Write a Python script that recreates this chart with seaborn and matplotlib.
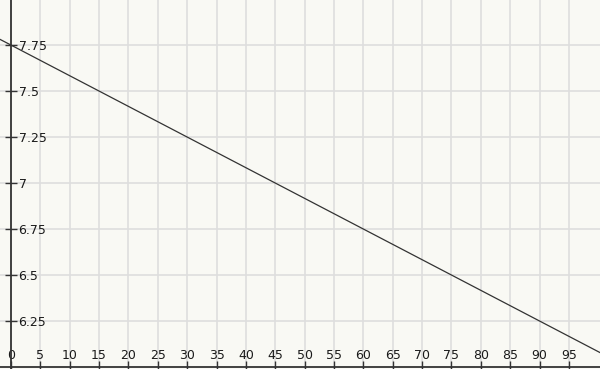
import matplotlib
matplotlib.use("Agg")
import matplotlib.pyplot as plt
import seaborn as sns
import pandas as pd
import numpy as np

# data
x_vals = [-5, 0, 30, 60, 90, 105]
y_vals = [7.833, 7.75, 7.25, 6.75, 6.25, 6.0]
x_ticks = list(range(0, 100, 5))
y_ticks = [6.25, 6.5, 6.75, 7.0, 7.25, 7.5, 7.75]
y_tick_labels = ["6.25", "6.5", "6.75", "7", "7.25", "7.5", "7.75"]

sns.set_theme(style="white")
plt.rcParams['font.family'] = ['DejaVu Sans']

df = pd.DataFrame({"x": x_vals, "y": y_vals})

fig = plt.figure(figsize=(6, 3.69), dpi=100)
fig.patch.set_facecolor("#f9f9f4")
ax = fig.add_axes([0, 0, 1, 1])
ax.set_facecolor("#f9f9f4")

sns.lineplot(data=df, x="x", y="y", ax=ax, color="#333333", linewidth=0.9)

ax.set_xlim(-1.87, 100.3)
ax.set_ylim(5.989, 7.995)

ax.set_xticks(x_ticks)
ax.set_xticklabels([str(t) for t in x_ticks])
ax.set_yticks(y_ticks)
ax.set_yticklabels(y_tick_labels)

ax.grid(True, color="#dedede", linewidth=1.2)
ax.set_axisbelow(True)

for s in ["left", "bottom"]:
    ax.spines[s].set_visible(False)
ax.spines["right"].set_position(("data", 0))
ax.spines["top"].set_position(("data", 6.0))
for s in ["right", "top"]:
    ax.spines[s].set_visible(True)
    ax.spines[s].set_color("#333333")
    ax.spines[s].set_linewidth(1.3)

ax.yaxis.set_ticks_position("right")
ax.xaxis.set_ticks_position("top")
ax.tick_params(axis="y", direction="inout", length=9, width=1.0, color="#333333",
               labelright=True, labelleft=False, pad=1, labelsize=9, labelcolor="#1a1a1a")
ax.tick_params(axis="x", direction="inout", length=9, width=1.0, color="#333333",
               labeltop=True, labelbottom=False, pad=-1, labelsize=9, labelcolor="#1a1a1a")
ax.set_xlabel("")
ax.set_ylabel("")

fig.savefig("out.png", dpi=100, facecolor=fig.get_facecolor())
